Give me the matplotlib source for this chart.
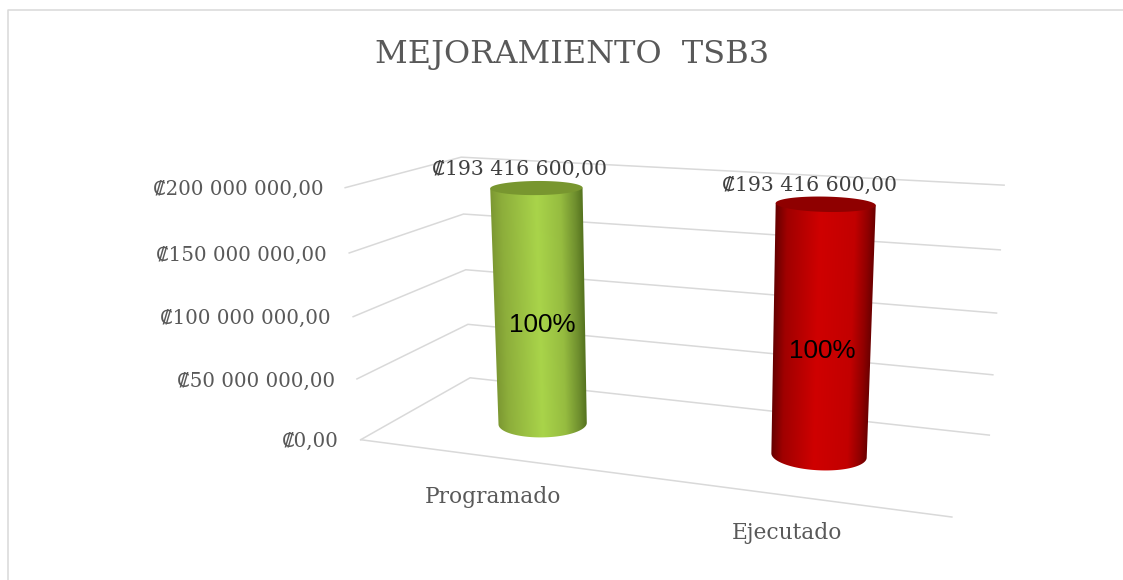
import numpy as np
import matplotlib
matplotlib.use("Agg")
import matplotlib.pyplot as plt
from matplotlib.patches import Polygon
from matplotlib.colors import LinearSegmentedColormap

# ---- data ----
title = "MEJORAMIENTO  TSB3"
categories = ["Programado", "Ejecutado"]
values = [193416600.0, 193416600.0]
percent_labels = ["100%", "100%"]
value_labels = ["₡193 416 600,00", "₡193 416 600,00"]
axis_ticks = [0, 50000000, 100000000, 150000000, 200000000]
axis_tick_labels = ["₡0,00", "₡50 000 000,00", "₡100 000 000,00", "₡150 000 000,00", "₡200 000 000,00"]
axis_max = 200000000.0

# ---- style ----
SLAB = ["DejaVu Serif", "DejaVu Sans"]
GRID = "#d9d9d9"
bar_stops = [
    [(0, "#7c9832"), (.12, "#8dae3b"), (.5, "#a9d44a"), (.76, "#96bc40"), (.92, "#6f8f2e"), (1, "#55731f")],
    [(0, "#650000"), (.12, "#a00000"), (.45, "#cf0000"), (.8, "#c20000"), (.93, "#900000"), (1, "#6c0000")],
]
cap_colors = ["#78962f", "#8f0000"]
bar_centers = [(0.2528, 0.477), (0.7505, 0.494)]      # position on floor (x, depth)
# local ellipse axes on the floor: (dx, ddepth) for cos and sin terms
bar_axes = [((0.0725, 0.0705), (-0.030, 0.180)), ((0.0765, 0.0407), (-0.0169, 0.180))]
value_label_pos = [(520, 169), (809, 185)]
percent_pos = [(542, 325), (822, 351)]
category_pos = [(493, 497), (787, 533)]

# Camera: perspective matrix (floor x, floor depth, value / axis_max, 1) -> pixels
CAM_PTS = [((0, 0, 0), (361, 440)), ((1, 0, 0), (952, 517)), ((0, 1, 0), (470, 378)), ((1, 1, 0), (989, 435)),
           ((0, 0, 1), (345, 188)), ((0, 1, 1), (462, 157)), ((1, 1, 1), (1004, 185)),
           ((0, 0, .75), (349, 253)), ((0, 1, .75), (463, 214)), ((1, 1, .75), (1000, 250)),
           ((1, 1, .5), (997, 313)), ((1, 1, .25), (993, 375)), ((0, 0, .5), (353, 317)), ((0, 0, .25), (357, 378))]
A, b = [], []
for (X, Y, Z), (u, v) in CAM_PTS:
    A.append([X, Y, Z, 1, 0, 0, 0, 0, -u * X, -u * Y, -u * Z]); b.append(u)
    A.append([0, 0, 0, 0, X, Y, Z, 1, -v * X, -v * Y, -v * Z]); b.append(v)
P = np.append(np.linalg.lstsq(np.array(A, float), np.array(b, float), rcond=None)[0], 1).reshape(3, 4)


def project(x, d, val):
    """x, depth in 0..1 and a value in axis units -> pixel coordinates."""
    x, d, val = np.broadcast_arrays(x, d, val)
    h = P @ np.stack([x, d, np.asarray(val) / axis_max, np.ones_like(x, dtype=float)])
    return h[0] / h[2], h[1] / h[2]


def front_arc(xs, ys, n):
    """Lower half of a closed ring, from its leftmost to its rightmost point, n samples."""
    i0, i1 = int(np.argmin(xs)), int(np.argmax(xs))
    m = len(xs)
    idx_a = np.arange(i0, i1 + 1 if i1 >= i0 else i1 + m + 1) % m
    idx_b = np.arange(i1, i0 + 1 if i0 >= i1 else i0 + m + 1) % m
    if ys[idx_a].mean() > ys[idx_b].mean():
        idx = idx_a
    else:
        idx = idx_b[::-1]
    s = np.linspace(0, len(idx) - 1, n)
    k = np.arange(len(idx))
    return np.interp(s, k, xs[idx]), np.interp(s, k, ys[idx])


fig = plt.figure(figsize=(11.23, 5.80), dpi=100)
ax = fig.add_axes([0, 0, 1, 1])
ax.set_xlim(0, 1123)
ax.set_ylim(580, 0)
ax.axis("off")

# chart frame
ax.plot([8, 8, 1123], [580, 9.5, 9.5], color=GRID, lw=1.1, solid_capstyle="butt")

# grid
for t in axis_ticks:
    xs, ys = project([0, 0, 1], [0, 1, 1], [t, t, t])
    ax.plot(xs, ys, color=GRID, lw=1.1, solid_joinstyle="miter", zorder=1)
xs, ys = project([0, 1], [0, 0], [0, 0])
ax.plot(xs, ys, color=GRID, lw=1.1, zorder=1)

# tick labels
for t, lab in zip(axis_ticks, axis_tick_labels):
    xs, ys = project(0, 0, t)
    ax.text(float(xs) - 22, float(ys) + 2, lab, ha="right", va="center", color="#595959",
            fontsize=14.3, family=SLAB)

# category labels
for (cx, cy), lab in zip(category_pos, categories):
    ax.text(cx, cy, lab, ha="center", va="center", color="#595959", fontsize=15.7, family=SLAB)

# cylinders
ang = np.linspace(0, 2 * np.pi, 1441)[:-1]
N = 200
for i, val in enumerate(values):
    cx, cd = bar_centers[i]
    (ax_, ad_), (bx_, bd_) = bar_axes[i]
    rx = cx + ax_ * np.cos(ang) + bx_ * np.sin(ang)
    rd = cd + ad_ * np.cos(ang) + bd_ * np.sin(ang)
    bx, by = project(rx, rd, 0)
    tx, ty = project(rx, rd, val)
    cmap = LinearSegmentedColormap.from_list(f"bar{i}", bar_stops[i])
    fbx, fby = front_arc(bx, by, N)
    ftx, fty = front_arc(tx, ty, N)
    # shading follows the cylinder's slanted sides
    x0, x1 = min(fbx.min(), ftx.min()) - 2, max(fbx.max(), ftx.max()) + 2
    y0, y1 = min(fty.min(), fby.min()) - 2, max(fty.max(), fby.max()) + 2
    gx, gy = np.meshgrid(np.linspace(x0, x1, 4 * int(x1 - x0)), np.linspace(y0, y1, 2 * int(y1 - y0)))
    s = (gy - fty[0]) / (fby[0] - fty[0])
    left = ftx[0] + s * (fbx[0] - ftx[0])
    right = ftx[-1] + s * (fbx[-1] - ftx[-1])
    frac = np.clip((gx - left) / (right - left), 0, 1)
    im = ax.imshow(frac, extent=(x0, x1, y1, y0), origin="upper", aspect="auto", cmap=cmap,
                   vmin=0, vmax=1, interpolation="bilinear", zorder=3)
    # the clip's upper edge runs inside the cap, which is painted over it
    chord_y = np.interp(ftx, [ftx[0], ftx[-1]], [fty[0], fty[-1]])
    outline = np.column_stack([np.concatenate([fbx, ftx[::-1]]), np.concatenate([fby, chord_y[::-1]])])
    clip = Polygon(outline, closed=True, transform=ax.transData, facecolor="none", edgecolor="none")
    ax.add_patch(clip)
    im.set_clip_path(clip)
    ax.fill(tx, ty, color=cap_colors[i], lw=0, zorder=4)

# labels on the bars
for (px, py), lab in zip(value_label_pos, value_labels):
    ax.text(px, py, lab, ha="center", va="center", color="#404040", fontsize=14.7, family=SLAB, zorder=6)
for (px, py), lab in zip(percent_pos, percent_labels):
    ax.text(px, py, lab, ha="center", va="center", color="#000000", fontsize=18.7,
            family="Liberation Sans", zorder=6)

ax.text(572, 54, title, ha="center", va="center", color="#595959", fontsize=23, family=SLAB)

ax.set_xlim(0, 1123)
ax.set_ylim(580, 0)
fig.savefig("out.png", dpi=100)
